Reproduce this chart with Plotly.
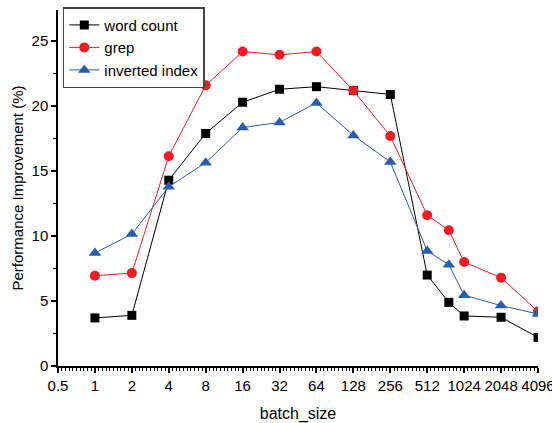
import numpy as np
import plotly.graph_objects as go

batch_size = [1, 2, 4, 8, 16, 32, 64, 128, 256, 512, 768, 1024, 2048, 4096]
word_count = [3.7, 3.9, 14.3, 17.9, 20.3, 21.3, 21.5, 21.2, 20.9, 7.0, 4.9, 3.85, 3.75, 2.2]
grep = [6.95, 7.15, 16.15, 21.6, 24.2, 23.95, 24.2, 21.2, 17.7, 11.6, 10.45, 8.0, 6.8, 4.2]
inverted_index = [8.7, 10.15, 13.8, 15.65, 18.35, 18.75, 20.25, 17.75, 15.7, 8.85, 7.8, 5.45, 4.65, 4.0]
tick_labels = ["0.5", "1", "2", "4", "8", "16", "32", "64", "128", "256", "512", "1024", "2048", "4096"]
tick_values = [0.5, 1, 2, 4, 8, 16, 32, 64, 128, 256, 512, 1024, 2048, 4096]

x = np.log2(batch_size)

fig = go.Figure()
series = [
    ("word count", word_count, "#000000", "square", 9),
    ("grep", grep, "#ee1c25", "circle", 10),
    ("inverted index", inverted_index, "#2b5caa", "triangle-up", 11),
]
for name, ys, col, sym, sz in series:
    fig.add_trace(go.Scatter(
        x=x, y=ys, name=name, mode="lines+markers",
        line=dict(color=col, width=1),
        marker=dict(symbol=sym, size=sz, color=col, line=dict(width=0)),
    ))

fig.update_layout(
    width=552, height=423,
    margin=dict(l=58, r=14, t=7, b=57),
    paper_bgcolor="white", plot_bgcolor="white",
    font=dict(family="Liberation Sans, Arial, sans-serif", size=15, color="black"),
    legend=dict(
        x=0.01, y=1.008, xanchor="left", yanchor="top",
        bgcolor="white", bordercolor="#444444", borderwidth=1.5,
        font=dict(size=15), tracegroupgap=0,
    ),
    xaxis=dict(
        range=[np.log2(0.5), np.log2(4096)],
        tickmode="array", tickvals=np.log2(tick_values), ticktext=tick_labels,
        ticks="outside", ticklen=5, tickwidth=1.5, tickcolor="black",
        showline=True, linecolor="black", linewidth=1.5,
        showgrid=False, zeroline=False, automargin=False,
        ticklabeloverflow="allow",
        minor=dict(dtick=0.1, tick0=-1, ticks="outside", ticklen=3, tickcolor="black", tickwidth=1),
        title=dict(text="batch_size", font=dict(size=16)),
        tickfont=dict(size=15),
    ),
    yaxis=dict(
        range=[0, 27.4],
        tickmode="linear", tick0=0, dtick=5,
        ticks="outside", ticklen=5, tickwidth=1.5, tickcolor="black",
        showline=True, linecolor="black", linewidth=1.5,
        showgrid=False, zeroline=False, automargin=True,
        minor=dict(dtick=2.5, ticks="outside", ticklen=3, tickcolor="black", tickwidth=1),
        title=dict(text="Performance Improvement (%)", font=dict(size=15), standoff=4),
        tickfont=dict(size=15),
    ),
)

fig.write_html(
    "out.html",
    config={"displayModeBar": False},
    post_script="document.body.style.margin='0';document.body.style.overflow='hidden';",
)
